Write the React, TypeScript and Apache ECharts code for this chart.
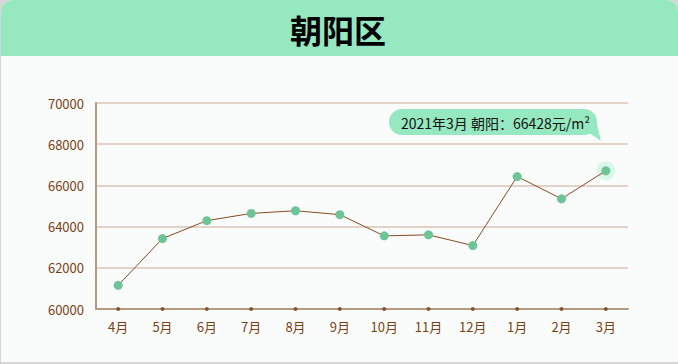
import React, { useEffect, useRef } from "react";
import * as echarts from "echarts";

const months = ["4月", "5月", "6月", "7月", "8月", "9月", "10月", "11月", "12月", "1月", "2月", "3月"];
const prices = [61150, 63420, 64290, 64640, 64770, 64580, 63550, 63600, 63080, 66430, 65350, 66710];
const yTicks = { min: 60000, max: 70000, interval: 2000 };
const titleText = "朝阳区";
const bubbleText = "2021年3月 朝阳：66428元/m²";

const FONT = '"Noto Sans CJK SC", "Noto Sans", sans-serif';
const BROWN_TEXT = "#7b3f14";

export default function App() {
  const ref = useRef<HTMLDivElement>(null);
  useEffect(() => {
    document.body.style.margin = "0";
    const chart = echarts.init(ref.current!, null, { renderer: "svg" });
    const lastIdx = prices.length - 1;
    chart.setOption({
      animation: false,
      textStyle: { fontFamily: FONT },
      graphic: [
        { type: "rect", z: -10, shape: { x: 0, y: 0, width: 678, height: 364 }, style: { fill: "#d6d6d6" }, silent: true },
        { type: "rect", z: -9, shape: { x: 1, y: 0, width: 677, height: 362, r: [12, 12, 0, 0] }, style: { fill: "#f9fcfb" }, silent: true },
        { type: "rect", z: -8, shape: { x: 1, y: 0, width: 677, height: 56, r: [12, 12, 0, 0] }, style: { fill: "#95e8bf" }, silent: true },
        {
          type: "text", z: 10, x: 338, y: 29,
          style: {
            text: titleText, fontSize: 32, fontWeight: "bold", fontFamily: FONT,
            fill: "#000", align: "center", verticalAlign: "middle",
            textShadowColor: "#ffffff", textShadowOffsetX: 1, textShadowOffsetY: 2, textShadowBlur: 0,
          },
        },
        { type: "rect", z: 10, shape: { x: 389, y: 109, width: 208, height: 26, r: 13 }, style: { fill: "#95e8bf" } },
        { type: "polygon", z: 10, shape: { points: [[585, 130], [596, 120], [601, 141]] }, style: { fill: "#95e8bf" } },
        {
          type: "text", z: 11, x: 401, y: 122.5,
          style: { text: bubbleText, fontSize: 14, fontFamily: FONT, fill: "#111", align: "left", verticalAlign: "middle" },
        },
      ],
      grid: { left: 96, right: 50, top: 103, bottom: 55 },
      xAxis: {
        type: "category",
        data: months,
        boundaryGap: true,
        axisLine: { lineStyle: { color: "#b59a84", width: 2 } },
        axisTick: { show: false },
        axisLabel: { color: BROWN_TEXT, fontSize: 13, margin: 11, fontFamily: FONT },
      },
      yAxis: {
        type: "value",
        min: yTicks.min,
        max: yTicks.max,
        interval: yTicks.interval,
        axisLine: { show: true, lineStyle: { color: "#b59a84", width: 2 } },
        axisTick: { show: false },
        axisLabel: { color: BROWN_TEXT, fontSize: 13, margin: 12, fontFamily: FONT, formatter: (v: number) => String(v) },
        splitLine: { lineStyle: { color: "#e2d2c7", width: 2 } },
      },
      series: [
        {
          type: "scatter",
          data: months.map((m, i) => (i === lastIdx ? [m, prices[i]] : null)).filter(Boolean),
          symbolSize: 19,
          itemStyle: { color: "rgba(149,232,191,0.35)" },
          z: 1,
          silent: true,
        },
        {
          type: "line",
          data: prices,
          symbol: "circle",
          symbolSize: 9,
          showAllSymbol: true,
          lineStyle: { color: "#8a4a22", width: 1 },
          itemStyle: { color: "#6dc497" },
          z: 3,
        },
        {
          type: "scatter",
          data: months.map((m) => [m, yTicks.min]),
          symbolSize: 4,
          itemStyle: { color: "#7b3f14" },
          clip: false,
          z: 5,
          silent: true,
        },
      ],
    });
    return () => chart.dispose();
  }, []);
  return <div ref={ref} style={{ width: 678, height: 364 }} />;
}
